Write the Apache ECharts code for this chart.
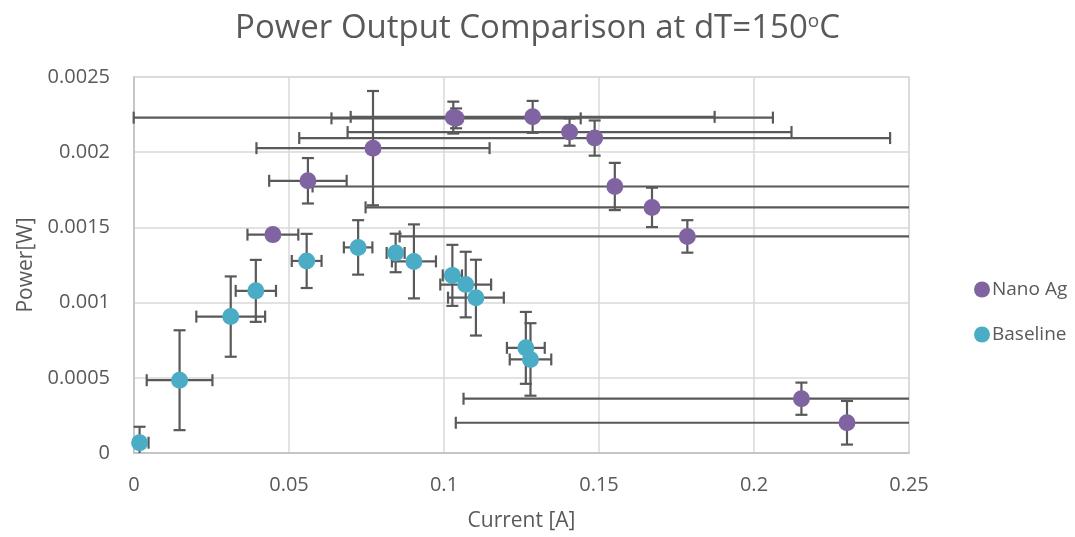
<!DOCTYPE html>
<html>
<head>
<meta charset="utf-8">
<title>Power Output Comparison</title>
<script src="https://cdn.jsdelivr.net/npm/echarts@6/dist/echarts.min.js"></script>
<style>
  html, body { margin: 0; padding: 0; background: #ffffff; }
  #chart { width: 1075px; height: 537px; }
</style>
</head>
<body>
<div id="chart"></div>
<script>
// Nano Ag measurements: current [A], power [W] and their uncertainties
const nanoCurrent   = [0.1030, 0.1039, 0.1286, 0.1405, 0.1486, 0.0771, 0.0561, 0.1551, 0.1671, 0.0448, 0.1785, 0.2153, 0.2300];
const nanoPower     = [0.002230, 0.002225, 0.002235, 0.002134, 0.002094, 0.002027, 0.001810, 0.001772, 0.001633, 0.001452, 0.001440, 0.000361, 0.000201];
const nanoCurrentErr = [0.1031, 0.0402, 0.0587, 0.0716, 0.0953, 0.0376, 0.0125, 0.0975, 0.0924, 0.0082, 0.0928, 0.1090, 0.1262];
const nanoPowerErr   = [0.000106, 0.000066, 0.000106, 0.000091, 0.000117, 0.000380, 0.000151, 0.000157, 0.000131, 0.000030, 0.000108, 0.000107, 0.000145];

// Baseline measurements
const baseCurrent   = [0.0018, 0.0147, 0.0312, 0.0393, 0.0557, 0.0723, 0.0844, 0.0903, 0.1027, 0.1070, 0.1103, 0.1264, 0.1279];
const basePower     = [0.0000684, 0.000484, 0.000907, 0.001078, 0.001277, 0.001367, 0.001330, 0.001274, 0.001181, 0.001120, 0.001033, 0.000699, 0.000622];
const baseCurrentErr = [0.0029, 0.0106, 0.0111, 0.0065, 0.0048, 0.0046, 0.0029, 0.0071, 0.0031, 0.0082, 0.0090, 0.0061, 0.0067];
const basePowerErr   = [0.000106, 0.000332, 0.000267, 0.000206, 0.000180, 0.000181, 0.000128, 0.000246, 0.000203, 0.000218, 0.000252, 0.000239, 0.000241];

// Axis ranges
const xTicks = [0, 0.05, 0.1, 0.15, 0.2, 0.25];
const yTicks = [0, 0.0005, 0.001, 0.0015, 0.002, 0.0025];

const seriesNames = ['Nano Ag', 'Baseline'];
const seriesColors = ['#8064A2', '#4BACC6'];

const FONT = '"Open Sans", "Noto Sans", sans-serif';
const TEXT = '#595959';

function points(xs, ys) {
  return xs.map((x, i) => [x, ys[i]]);
}
function errRows(xs, ys, ex, ey) {
  return xs.map((x, i) => [x, ys[i], ex[i], ey[i]]);
}

// Draws horizontal and vertical error bars with end caps, clipped to the plot
function renderErrorBars(params, api) {
  const x = api.value(0), y = api.value(1), ex = api.value(2), ey = api.value(3);
  const cs = params.coordSys;
  const left = cs.x, right = cs.x + cs.width, top = cs.y, bottom = cs.y + cs.height;
  const c = api.coord([x, y]);
  const l = api.coord([x - ex, y])[0];
  const r = api.coord([x + ex, y])[0];
  const t = api.coord([x, y + ey])[1];
  const b = api.coord([x, y - ey])[1];
  const cap = 6;
  const style = { stroke: '#595959', lineWidth: 2.2 };
  const children = [];
  const line = (x1, y1, x2, y2) => children.push({ type: 'line', shape: { x1, y1, x2, y2 }, style });
  // horizontal
  line(Math.max(l, left), c[1], Math.min(r, right), c[1]);
  if (l >= left - 0.5) line(l, c[1] - cap, l, c[1] + cap);
  if (r <= right + 0.5) line(r, c[1] - cap, r, c[1] + cap);
  // vertical
  line(c[0], Math.max(t, top), c[0], Math.min(b, bottom));
  if (t >= top - 0.5) line(c[0] - cap, t, c[0] + cap, t);
  if (b <= bottom + 0.5) line(c[0] - cap, b, c[0] + cap, b);
  return { type: 'group', children };
}

const chart = echarts.init(document.getElementById('chart'), null, { renderer: 'canvas' });

chart.setOption({
  animation: false,
  backgroundColor: '#ffffff',
  title: {
    text: 'Power Output Comparison at dT=150{sup|o}C',
    left: 'center',
    top: 7,
    textStyle: {
      fontFamily: FONT,
      fontSize: 33,
      fontWeight: 'normal',
      color: TEXT,
      rich: {
        sup: { fontFamily: FONT, fontSize: 19, color: TEXT, verticalAlign: 'top', lineHeight: 32, padding: [0, 0, 13, 0] }
      }
    }
  },
  legend: {
    orient: 'vertical',
    left: 969,
    top: 275,
    itemGap: 26,
    itemWidth: 16,
    itemHeight: 16,
    icon: 'circle',
    data: seriesNames,
    textStyle: { fontFamily: FONT, fontSize: 19, color: TEXT, padding: [0, 0, 0, -3] }
  },
  grid: {
    left: 134,
    right: 166,
    top: 77,
    bottom: 83,
    show: true,
    borderColor: '#D9D9D9',
    borderWidth: 1.5
  },
  xAxis: {
    type: 'value',
    min: xTicks[0],
    max: xTicks[xTicks.length - 1],
    interval: 0.05,
    name: 'Current [A]',
    nameLocation: 'middle',
    nameGap: 58,
    nameTextStyle: { fontFamily: FONT, fontSize: 21, color: TEXT },
    axisLine: { show: true, lineStyle: { color: '#BFBFBF', width: 1.5 } },
    axisTick: { show: false },
    axisLabel: { fontFamily: FONT, fontSize: 20, color: TEXT, margin: 22 },
    splitLine: { show: true, lineStyle: { color: '#D9D9D9', width: 1.5 } }
  },
  yAxis: {
    type: 'value',
    min: yTicks[0],
    max: yTicks[yTicks.length - 1],
    interval: 0.0005,
    name: 'Power[W]',
    nameLocation: 'middle',
    nameGap: 96,
    nameTextStyle: { fontFamily: FONT, fontSize: 21, color: TEXT },
    axisLine: { show: true, lineStyle: { color: '#BFBFBF', width: 1.5 } },
    axisTick: { show: false },
    axisLabel: { fontFamily: FONT, fontSize: 20, color: TEXT, margin: 24 },
    splitLine: { show: true, lineStyle: { color: '#D9D9D9', width: 1.5 } }
  },
  series: [
    {
      name: 'Nano Ag errors',
      type: 'custom',
      z: 1,
      renderItem: renderErrorBars,
      encode: { x: 0, y: 1 },
      data: errRows(nanoCurrent, nanoPower, nanoCurrentErr, nanoPowerErr)
    },
    {
      name: 'Baseline errors',
      type: 'custom',
      z: 1,
      renderItem: renderErrorBars,
      encode: { x: 0, y: 1 },
      data: errRows(baseCurrent, basePower, baseCurrentErr, basePowerErr)
    },
    {
      name: seriesNames[0],
      type: 'scatter',
      z: 3,
      symbol: 'circle',
      symbolSize: 17,
      itemStyle: { color: seriesColors[0], opacity: 1 },
      data: points(nanoCurrent, nanoPower)
    },
    {
      name: seriesNames[1],
      type: 'scatter',
      z: 3,
      symbol: 'circle',
      symbolSize: 17,
      itemStyle: { color: seriesColors[1], opacity: 1 },
      data: points(baseCurrent, basePower)
    }
  ]
});
</script>
</body>
</html>
